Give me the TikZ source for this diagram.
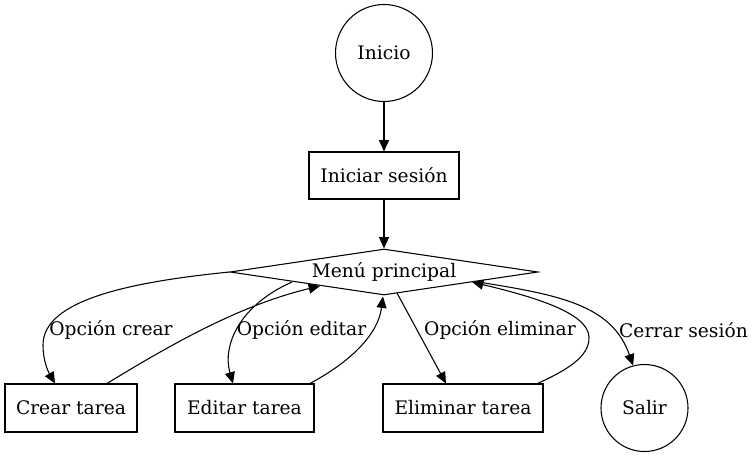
\documentclass[tikz,border=0pt]{standalone}
\usepackage{fontspec}
\setmainfont{DejaVu Serif}
\usetikzlibrary{shapes.geometric,arrows.meta,calc}
\tikzset{
  base/.style={draw, line width=0.8pt, font=\fontsize{14}{16}\selectfont, inner sep=0pt},
  circ/.style={base, circle},
  box/.style={base, rectangle, minimum height=36pt},
  dia/.style={base, diamond, aspect=6.7},
  lbl/.style={font=\fontsize{14}{16}\selectfont, inner sep=0pt},
  edge/.style={line width=0.8pt, -{Triangle[length=8.5pt,width=7.5pt]}}
}
\begin{document}
\begin{tikzpicture}[x=0.75pt,y=-0.75pt]
\useasboundingbox (0,0) rectangle (754,457);
\node[circ, minimum size=72.75pt] (inicio) at (384,53) {Inicio};
\node[box, minimum width=112.5pt, minimum height=35.25pt] (login) at (384,175.5) {Iniciar sesión};
\node[dia, minimum width=231pt, minimum height=34.5pt] (menu) at (384,272) {Menú principal};
\node[box, minimum width=99pt] (crear) at (71,408) {Crear tarea};
\node[box, minimum width=104.25pt] (editar) at (244.5,408) {Editar tarea};
\node[box, minimum width=120pt] (elim) at (463,408) {Eliminar tarea};
\node[circ, minimum size=65.25pt] (salir) at (644.5,408) {Salir};

\node[lbl] (lcrear) at (111,330) {Opción crear};
\node[lbl] (leditar) at (301.5,330) {Opción editar};
\node[lbl] (lelim) at (500,330) {Opción eliminar};
\node[lbl] (lsalir) at (683.5,330) {Cerrar sesión};

\draw[edge] (inicio) -- (login);
\draw[edge] (login) -- (menu);
% menu -> crear
\draw[edge] (menu.west) .. controls (130,282) and (43,300) .. (43,345)
  .. controls (43,362) and (49,373) .. ($(crear.north)+(-16,0)$);
% crear -> menu
\draw[edge] ($(crear.north)+(36,0)$) .. controls (170,345) and (240,305) .. ($(menu.center)+(-64,14)$);
% menu -> editar
\draw[edge] ($(menu.center)+(-92,10)$) .. controls (240,305) and (222,345) .. ($(editar.north)+(-11.5,0)$);
% editar -> menu
\draw[edge] ($(editar.north)+(65.5,0)$) .. controls (350,362) and (378,335) .. ($(menu.south)+(-1,1)$);
% menu -> eliminar
\draw[edge] ($(menu.center)+(13,21)$) -- ($(elim.north)+(-17,0)$);
% eliminar -> menu
\draw[edge] ($(elim.north east)+(-6,0)$) .. controls (565,371) and (590,357) .. (589,337)
  .. controls (588,312) and (530,296) .. ($(menu.center)+(88,10)$);
% menu -> salir
\draw[edge] ($(menu.center)+(94,10)$) .. controls (560,295) and (612,305) .. (salir.105);
\end{tikzpicture}
\end{document}
